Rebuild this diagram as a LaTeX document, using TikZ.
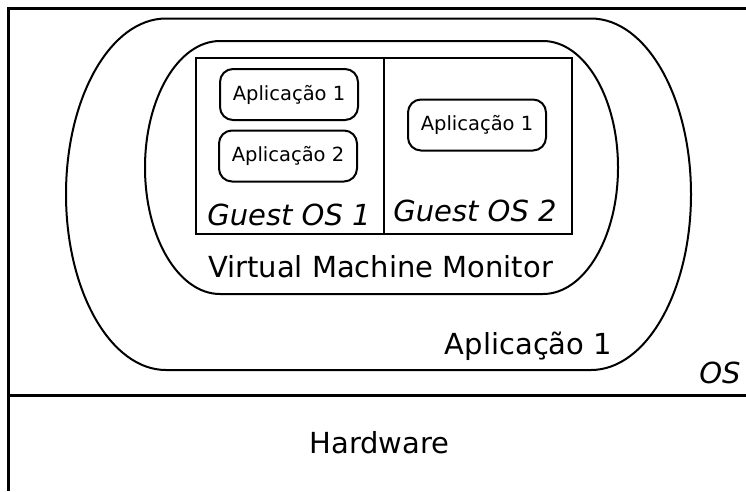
\documentclass[tikz,border=0pt]{standalone}
\usepackage{fontspec}
\setmainfont{DejaVu Sans}
\begin{document}
\begin{tikzpicture}[x=1pt,y=1pt,
  outline/.style={line width=2pt},
  bigtext/.style={font=\fontsize{29}{35}\selectfont, inner sep=0pt, anchor=base},
  appbox/.style={draw, line width=2pt, rounded corners=13pt, minimum width=138pt, minimum height=51pt, inner sep=0pt, font=\fontsize{19.5}{23}\selectfont}
]
\useasboundingbox (0,0) rectangle (746,-491);
% outer frame (OS / Hardware)
\draw[line width=2.3pt] (8.5,-491) -- (8.5,-8.5) -- (746,-8.5);
\draw[line width=2.3pt] (8.5,-395.5) -- (746,-395.5);
% large rounded shape (host application)
\draw[outline] (166,-18.5) -- (591,-18.5)
  arc[start angle=90,end angle=0,x radius=100,y radius=175.75]
  arc[start angle=0,end angle=-90,x radius=100,y radius=175.75]
  -- (166,-370)
  arc[start angle=270,end angle=180,x radius=100,y radius=175.75]
  arc[start angle=180,end angle=90,x radius=100,y radius=175.75] -- cycle;
% virtual machine monitor
\draw[outline] (220,-41) -- (543,-41)
  arc[start angle=90,end angle=0,x radius=75,y radius=126.5]
  arc[start angle=0,end angle=-90,x radius=75,y radius=126.5]
  -- (220,-294)
  arc[start angle=270,end angle=180,x radius=75,y radius=126.5]
  arc[start angle=180,end angle=90,x radius=75,y radius=126.5] -- cycle;
% guest OS boxes
\draw[outline] (196,-58) rectangle (572,-234);
\draw[outline] (384,-58) -- (384,-234);
% applications
\node[appbox] (g1a1) at (289,-94.5) {Aplicação 1};
\node[appbox] (g1a2) at (288,-156) {Aplicação 2};
\node[appbox] (g2a1) at (477,-125) {Aplicação 1};
% labels
\node[bigtext] (gos1) at (289,-225) {\itshape Guest OS 1};
\node[bigtext] (gos2) at (475,-221) {\itshape Guest OS 2};
\node[bigtext] (vmm) at (380.5,-277) {Virtual Machine Monitor};
\node[bigtext] (happ) at (528.5,-354) {Aplicação 1};
\node[bigtext] (os) at (720,-383) {\itshape OS};
\node[bigtext] (hw) at (379.5,-453) {Hardware};
\end{tikzpicture}
\end{document}
